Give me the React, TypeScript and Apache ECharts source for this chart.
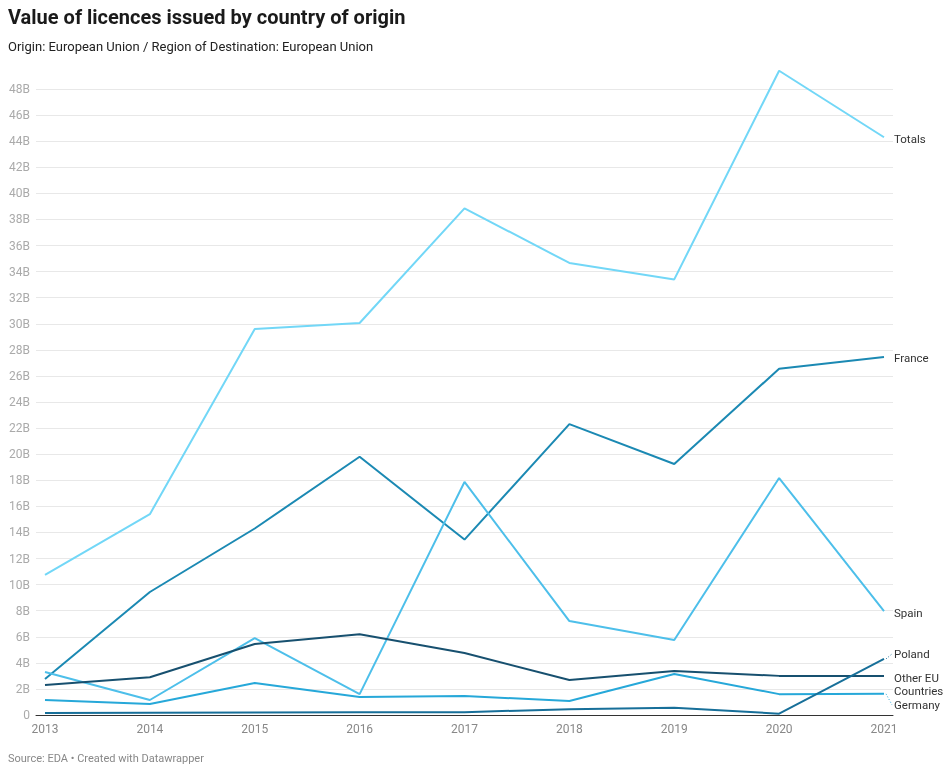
import React, { useEffect, useRef } from "react";
import * as echarts from "echarts";

const years = ["2013", "2014", "2015", "2016", "2017", "2018", "2019", "2020", "2021"];
const totals = [10.74, 15.4, 29.6, 30.06, 38.85, 34.66, 33.4, 49.4, 44.3];
const france = [2.76, 9.43, 14.3, 19.8, 13.45, 22.3, 19.25, 26.55, 27.45];
const spain = [3.3, 1.15, 5.9, 1.6, 17.87, 7.2, 5.75, 18.17, 7.97];
const otherEU = [2.3, 2.9, 5.45, 6.2, 4.75, 2.68, 3.37, 3.0, 3.0];
const germany = [1.15, 0.85, 2.45, 1.38, 1.46, 1.07, 3.15, 1.6, 1.62];
const poland = [0.15, 0.18, 0.2, 0.22, 0.22, 0.45, 0.55, 0.1, 4.3];
const yTicks = [0, 2, 4, 6, 8, 10, 12, 14, 16, 18, 20, 22, 24, 26, 28, 30, 32, 34, 36, 38, 40, 42, 44, 46, 48];

const FONT = "Roboto";

export default function App() {
  const ref = useRef<HTMLDivElement>(null);
  useEffect(() => {
    if (!ref.current) return;
    const chart = echarts.init(ref.current, null, { renderer: "svg" });
    const seriesDefs = [
      { name: "Totals", label: "Totals", data: totals, color: "#72d7f7", dy: 2, lh: 12 },
      { name: "France", label: "France", data: france, color: "#1b89b3", dy: 1, lh: 12 },
      { name: "Spain", label: "Spain", data: spain, color: "#4dbfea", dy: 2, lh: 12 },
      { name: "Other EU Countries", label: "Other EU\nCountries", data: otherEU, color: "#17506f", dy: 9, lh: 13 },
      { name: "Germany", label: "Germany", data: germany, color: "#26a8d9", dy: 11, lh: 12 },
      { name: "Poland", label: "Poland", data: poland, color: "#176f99", dy: -5, lh: 12 },
    ];
    const plotTop = 89;
    const plotBottom = 52;
    const pxPerB = (767 - plotBottom - plotTop) / 48;
    const top2 = plotTop - 2 * pxPerB;
    chart.setOption({
      animation: false,
      textStyle: { fontFamily: FONT },
      title: [
        {
          text: "Value of licences issued by country of origin",
          left: 8,
          top: 7,
          padding: 0,
          textStyle: { fontFamily: FONT, fontSize: 20, fontWeight: "bold", color: "#1a1a1a" },
        },
        {
          text: "Origin: European Union / Region of Destination: European Union",
          left: 8,
          top: 40,
          padding: 0,
          textStyle: { fontFamily: FONT, fontSize: 13, fontWeight: "normal", color: "#222" },
        },
        {
          text: "Source: EDA • Created with Datawrapper",
          left: 8,
          top: 753,
          padding: 0,
          textStyle: { fontFamily: FONT, fontSize: 11, fontWeight: "normal", color: "#888" },
        },
      ],
      grid: [
        { left: 36, right: 943 - 893, top: plotTop, bottom: plotBottom },
        { left: 45, right: 943 - 884, top: top2, bottom: plotBottom },
      ],
      xAxis: [
        {
          gridIndex: 0,
          type: "value",
          min: 0,
          max: 1,
          axisLabel: { show: false },
          axisTick: { show: false },
          splitLine: { show: false },
          axisLine: { show: true, lineStyle: { color: "#333", width: 1 } },
        },
        {
          gridIndex: 1,
          type: "category",
          data: years,
          boundaryGap: false,
          axisLine: { show: false },
          axisTick: { show: false },
          axisLabel: { color: "#888", fontSize: 12, fontFamily: FONT, margin: 8 },
          splitLine: { show: false },
        },
      ],
      yAxis: [
        {
          gridIndex: 0,
          type: "value",
          min: 0,
          max: yTicks[yTicks.length - 1],
          interval: 2,
          axisLine: { show: false },
          axisTick: { show: false },
          axisLabel: {
            color: "#aaa",
            fontSize: 12,
            fontFamily: FONT,
            margin: 6,
            formatter: (v: number) => (v === 0 ? "0" : v + "B"),
          },
          splitLine: { show: true, lineStyle: { color: "#e8e8e8", width: 1 } },
        },
        {
          gridIndex: 1,
          type: "value",
          min: 0,
          max: 50,
          interval: 2,
          show: false,
          splitLine: { show: false },
        },
      ],
      series: seriesDefs.map((s) => ({
        name: s.name,
        type: "line",
        xAxisIndex: 1,
        yAxisIndex: 1,
        data: s.data,
        symbol: "none",
        lineStyle: { color: s.color, width: 2 },
        itemStyle: { color: s.color },
        endLabel: {
          show: true,
          formatter: () => s.label,
          color: "#333",
          fontSize: 11.5,
          fontFamily: FONT,
          lineHeight: s.lh,
          distance: 10,
          offset: [0, s.dy],
        },
        labelLayout: { hideOverlap: false },
        z: 3,
      })),
    });
    const graphics: any[] = [];
    seriesDefs.forEach((s, i) => {
      if (Math.abs(s.dy) < 4 || s.name === "Other EU Countries") return;
      const last = s.data[s.data.length - 1];
      const p = chart.convertToPixel({ seriesIndex: i }, [years.length - 1, last]) as number[];
      graphics.push({
        type: "line",
        shape: { x1: p[0] + 2, y1: p[1], x2: p[0] + 8, y2: p[1] + s.dy },
        style: { stroke: s.color, lineWidth: 1, lineDash: [1, 2] },
      });
    });
    chart.setOption({ graphic: graphics });
    return () => chart.dispose();
  }, []);
  return <div ref={ref} style={{ position: "fixed", left: 0, top: 0, width: 943, height: 767 }} />;
}
